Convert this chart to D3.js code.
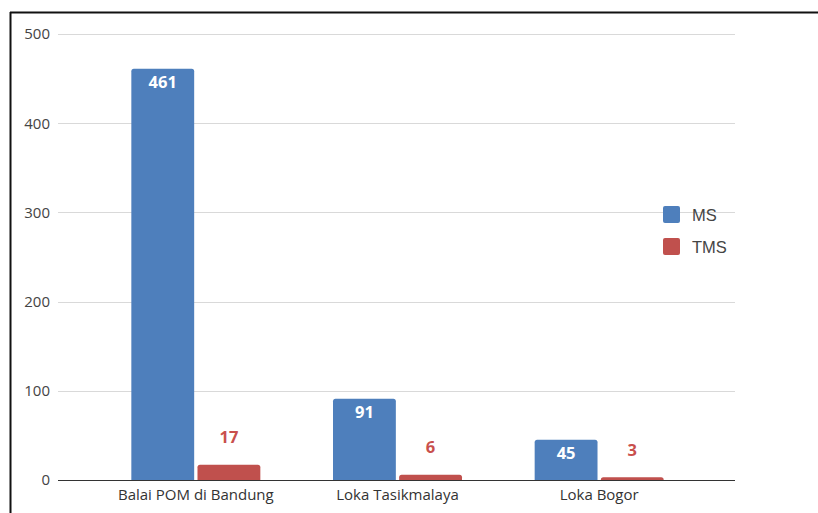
<!DOCTYPE html>
<html><head><meta charset="utf-8">
<script src="https://cdn.jsdelivr.net/npm/d3@7"></script>
<style>body{margin:0;background:#fff;}svg{display:block;}</style>
</head><body>
<svg id="c" width="818" height="513"></svg>
<script>
const categories = ["Balai POM di Bandung", "Loka Tasikmalaya", "Loka Bogor"];
const seriesNames = ["MS", "TMS"];
const msValues = [461, 91, 45];
const tmsValues = [17, 6, 3];
const yTicks = [0, 100, 200, 300, 400, 500];
const colors = {MS: "#4e7fbc", TMS: "#c0504d"};

const svg = d3.select("#c");
// frame
svg.append("line").attr("x1",10).attr("x2",818).attr("y1",12.5).attr("y2",12.5).attr("stroke","#111").attr("stroke-width",2);
svg.append("line").attr("x1",10.5).attr("x2",10.5).attr("y1",12).attr("y2",513).attr("stroke","#111").attr("stroke-width",2);

const y = d3.scaleLinear().domain([0,500]).range([480,34]);
const x0 = d3.scaleBand().domain(categories).range([95,700]).paddingInner(0).paddingOuter(0);
const x1 = d3.scaleBand().domain(seriesNames).range([-64.5,64.5]).paddingInner(0.05);

const gridL = 58, gridR = 735;
const grid = svg.append("g");
grid.selectAll("line").data(yTicks.filter(d=>d!==0)).enter().append("line")
  .attr("x1",gridL).attr("x2",gridR).attr("y1",d=>Math.round(y(d))+0.5).attr("y2",d=>Math.round(y(d))+0.5)
  .attr("stroke","#d9d9d9").attr("stroke-width",1);

const yAxis = d3.axisLeft(y).tickValues(yTicks).tickSize(0).tickPadding(8);
const ya = svg.append("g").attr("transform",`translate(${gridL},0)`).call(yAxis);
ya.select(".domain").remove();
ya.selectAll("text").attr("font-family","'Open Sans', sans-serif").attr("font-size",15).attr("fill","#444");

const data = categories.map((c,i)=>({cat:c, vals:[{k:"MS",v:msValues[i]},{k:"TMS",v:tmsValues[i]}]}));

function topRounded(x,yTop,w,h,r){
  r = Math.min(r,h,w/2);
  return `M${x},${yTop+h}V${yTop+r}Q${x},${yTop} ${x+r},${yTop}H${x+w-r}Q${x+w},${yTop} ${x+w},${yTop+r}V${yTop+h}Z`;
}

const groups = svg.selectAll(".grp").data(data).enter().append("g")
  .attr("transform",d=>`translate(${x0(d.cat)+x0.bandwidth()/2},0)`);
groups.selectAll("path").data(d=>d.vals).enter().append("path")
  .attr("d",d=>topRounded(x1(d.k), y(d.v), x1.bandwidth(), y(0)-y(d.v), 2.5))
  .attr("fill",d=>colors[d.k]);
groups.selectAll("text.val").data(d=>d.vals).enter().append("text")
  .attr("class","val")
  .attr("x",d=>x1(d.k)+x1.bandwidth()/2)
  .attr("y",d=>d.k==="MS" ? y(d.v)+19.5 : y(d.v)-21.5)
  .attr("text-anchor","middle")
  .attr("font-family","'Open Sans', sans-serif").attr("font-weight","bold").attr("font-size",16.5)
  .attr("fill",d=>d.k==="MS" ? "#fff" : "#c9504d")
  .text(d=>d.v);

// baseline
svg.append("line").attr("x1",gridL).attr("x2",gridR).attr("y1",y(0)+0.5).attr("y2",y(0)+0.5).attr("stroke","#333").attr("stroke-width",1.2);

const xAxis = d3.axisBottom(x0).tickSize(0).tickPadding(9);
const xa = svg.append("g").attr("transform",`translate(0,${y(0)})`).call(xAxis);
xa.select(".domain").remove();
xa.selectAll("text").attr("font-family","'Open Sans', sans-serif").attr("font-size",15).attr("fill","#333");

// legend
const lg = svg.append("g").attr("transform","translate(663,206)");
const li = lg.selectAll("g").data(seriesNames).enter().append("g").attr("transform",(d,i)=>`translate(0,${i*32})`);
li.append("rect").attr("width",17).attr("height",17).attr("rx",2).attr("fill",d=>colors[d]);
li.append("text").attr("x",29).attr("y",15).attr("font-family","'Liberation Sans', Arial, sans-serif").attr("font-size",16.5).attr("fill","#444").text(d=>d);
</script>
</body></html>
